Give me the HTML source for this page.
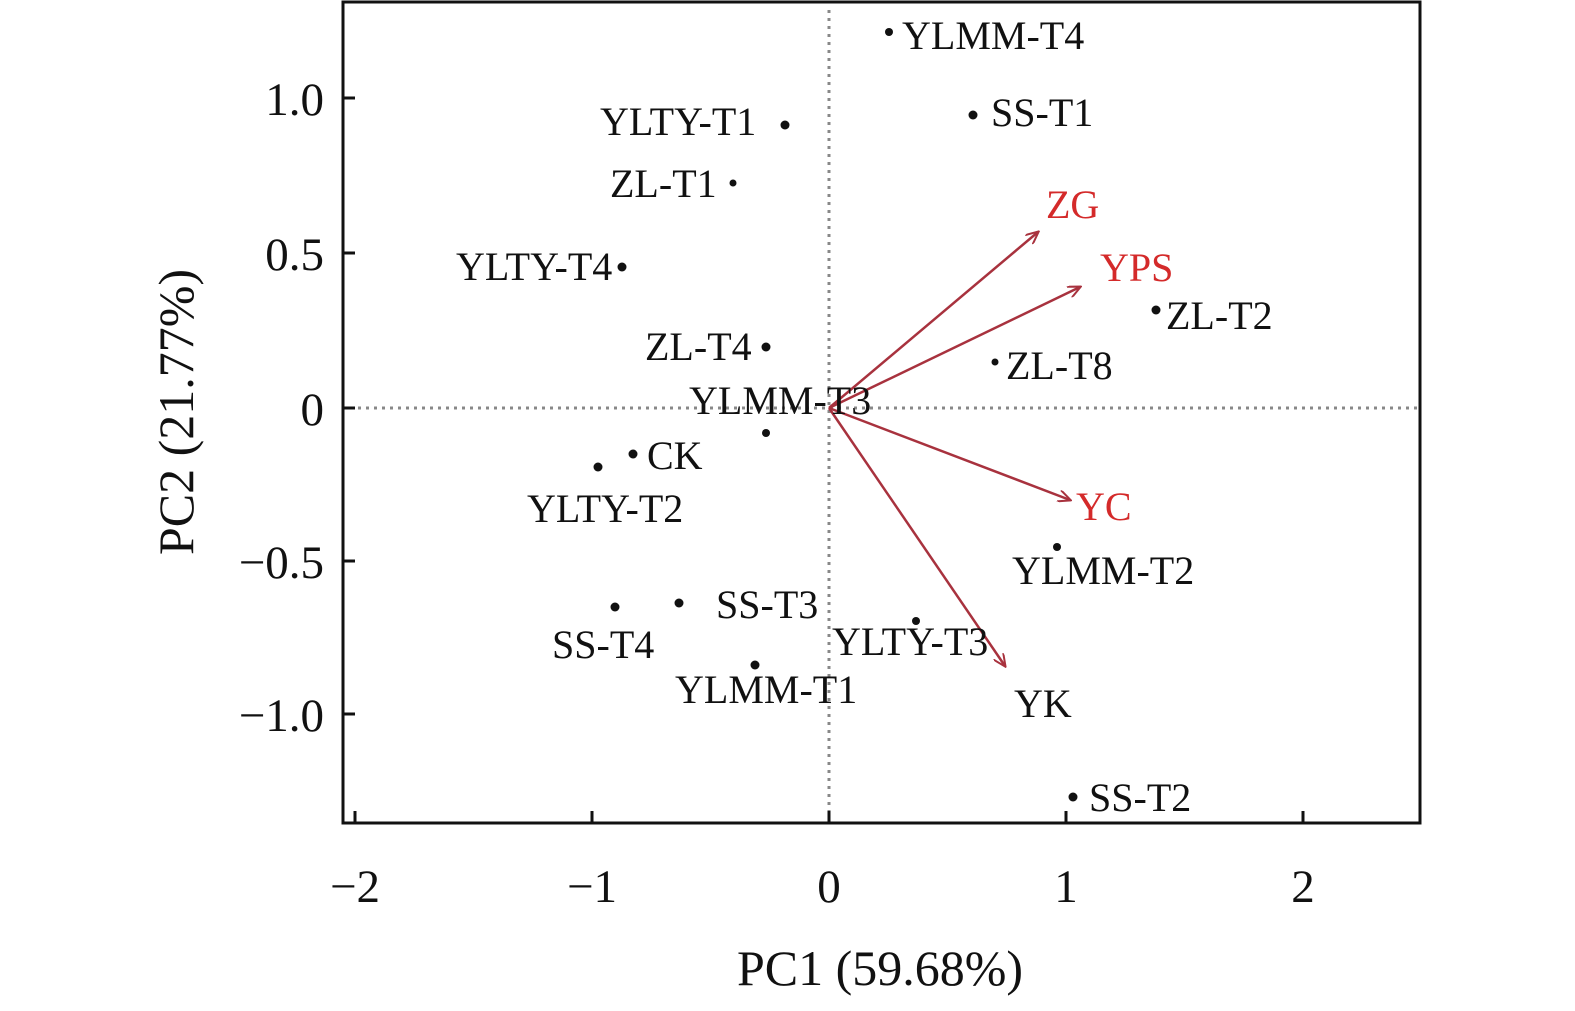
<!DOCTYPE html>
<html><head><meta charset="utf-8"><style>
html,body{margin:0;padding:0;background:#fff}
svg text{font-family:"Liberation Serif",serif}
</style></head><body>
<svg width="1575" height="1006" viewBox="0 0 1575 1006" xmlns="http://www.w3.org/2000/svg">
<defs><marker id="ar" markerWidth="14" markerHeight="12" refX="12" refY="6" orient="auto" markerUnits="userSpaceOnUse">
<path d="M0,0 L13,6 L0,12" fill="none" stroke="#a8323e" stroke-width="2"/></marker></defs>
<rect x="343" y="2" width="1077" height="821" fill="none" stroke="#111" stroke-width="3"/>
<line x1="829" y1="10" x2="829" y2="818" stroke="#888" stroke-width="3" stroke-dasharray="3,5"/>
<line x1="350" y1="408" x2="1418" y2="408" stroke="#888" stroke-width="3" stroke-dasharray="3,5"/>
<g stroke="#111" stroke-width="3">
<line x1="355" y1="823" x2="355" y2="811"/><line x1="592" y1="823" x2="592" y2="811"/>
<line x1="829" y1="823" x2="829" y2="811"/><line x1="1066" y1="823" x2="1066" y2="811"/>
<line x1="1303" y1="823" x2="1303" y2="811"/>
<line x1="343" y1="98" x2="355" y2="98"/><line x1="343" y1="253" x2="355" y2="253"/>
<line x1="343" y1="408" x2="355" y2="408"/><line x1="343" y1="561" x2="355" y2="561"/>
<line x1="343" y1="714" x2="355" y2="714"/>
</g>
<g font-size="47" fill="#111" text-anchor="middle">
<text x="355" y="902">−2</text><text x="592" y="902">−1</text><text x="829" y="902">0</text>
<text x="1066" y="902">1</text><text x="1303" y="902">2</text>
</g>
<g font-size="47" fill="#111" text-anchor="end">
<text x="324" y="115">1.0</text><text x="324" y="270">0.5</text><text x="324" y="425">0</text>
<text x="324" y="578">−0.5</text><text x="324" y="731">−1.0</text>
</g>
<text x="880" y="985" font-size="50" text-anchor="middle" fill="#111">PC1 (59.68%)</text>
<text transform="translate(193,412) rotate(-90)" font-size="50" text-anchor="middle" fill="#111">PC2 (21.77%)</text>
<g stroke="#a8323e" stroke-width="2.5" marker-end="url(#ar)">
<line x1="829" y1="408" x2="1038" y2="232"/>
<line x1="829" y1="408" x2="1080" y2="287"/>
<line x1="829" y1="408" x2="1070" y2="500"/>
<line x1="829" y1="408" x2="1005" y2="666"/>
</g>
<g font-size="40" fill="#d42a2a">
<text x="1046" y="218">ZG</text><text x="1100" y="281">YPS</text><text x="1076" y="520">YC</text>
</g>
<g fill="#111">
<circle cx="889" cy="32" r="4"/><circle cx="973" cy="115" r="4.5"/><circle cx="785" cy="125" r="4.5"/>
<circle cx="733" cy="183" r="3.5"/><circle cx="622" cy="267" r="4.5"/><circle cx="766" cy="347" r="4.5"/>
<circle cx="1156" cy="310" r="4.5"/><circle cx="995" cy="362" r="3.5"/><circle cx="766" cy="433" r="4"/>
<circle cx="633" cy="454" r="4.5"/><circle cx="598" cy="467" r="4.5"/><circle cx="1057" cy="547" r="4"/>
<circle cx="615" cy="607" r="4.5"/><circle cx="679" cy="603" r="4.5"/><circle cx="916" cy="621" r="4"/>
<circle cx="755" cy="665" r="4.5"/><circle cx="1073" cy="797" r="4.5"/>
</g>
<g font-size="40" fill="#111">
<text x="902" y="49">YLMM-T4</text><text x="991" y="126">SS-T1</text>
<text x="600" y="135">YLTY-T1</text><text x="610" y="197">ZL-T1</text>
<text x="456" y="280">YLTY-T4</text><text x="645" y="360">ZL-T4</text>
<text x="1166" y="329">ZL-T2</text><text x="1006" y="379">ZL-T8</text>
<text x="689" y="414">YLMM-T3</text><text x="647" y="469">CK</text>
<text x="527" y="522">YLTY-T2</text><text x="1012" y="584">YLMM-T2</text>
<text x="716" y="618">SS-T3</text><text x="552" y="658">SS-T4</text>
<text x="832" y="655">YLTY-T3</text><text x="675" y="703">YLMM-T1</text>
<text x="1014" y="717">YK</text><text x="1089" y="811">SS-T2</text>
</g>
</svg>
</body></html>
